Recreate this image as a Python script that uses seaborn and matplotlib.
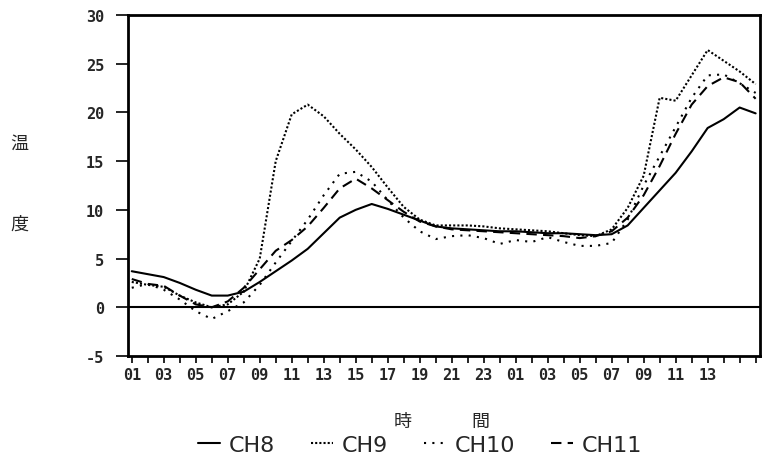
import numpy as np
import pandas as pd
import matplotlib
matplotlib.use("Agg")
import matplotlib.pyplot as plt
import seaborn as sns

# hourly readings, 01h day 1 through 16h day 2
hours = list(range(40))
tick_labels = ["01", "03", "05", "07", "09", "11", "13", "15", "17", "19", "21", "23",
               "01", "03", "05", "07", "09", "11", "13"]

ch8 = [3.7, 3.4, 3.1, 2.5, 1.8, 1.2, 1.2, 1.6, 2.6, 3.7,
       4.8, 6.0, 7.6, 9.2, 10.0, 10.6, 10.1, 9.5, 8.9, 8.3,
       8.1, 8.0, 7.9, 7.8, 7.8, 7.7, 7.6, 7.6, 7.5, 7.4,
       7.5, 8.4, 10.2, 12.0, 13.8, 16.0, 18.4, 19.3, 20.5, 19.9]
ch9 = [2.6, 2.3, 2.1, 1.2, 0.5, 0.0, 0.3, 1.6, 5.0, 15.0,
       19.8, 20.8, 19.6, 17.8, 16.2, 14.4, 12.3, 10.3, 9.0, 8.4,
       8.4, 8.4, 8.3, 8.1, 8.0, 7.9, 7.8, 7.6, 7.4, 7.3,
       8.0, 10.2, 13.5, 21.5, 21.2, 23.8, 26.4, 25.3, 24.2, 22.9]
ch10 = [2.0, 2.4, 1.8, 0.8, -0.4, -1.2, -0.4, 0.5, 2.3, 4.6,
        6.8, 9.0, 11.5, 13.7, 13.9, 12.9, 11.0, 9.2, 7.8, 7.0,
        7.3, 7.4, 7.1, 6.5, 6.9, 6.7, 7.2, 6.7, 6.3, 6.3,
        6.6, 9.0, 12.5, 15.5, 18.5, 21.5, 23.8, 23.9, 23.0, 22.0]
ch11 = [2.9, 2.4, 2.2, 1.2, 0.3, 0.0, 0.6, 2.0, 3.9, 5.8,
        6.9, 8.3, 10.2, 12.2, 13.2, 12.2, 11.0, 9.8, 8.8, 8.3,
        8.0, 7.9, 7.8, 7.7, 7.6, 7.5, 7.4, 7.3, 7.1, 7.3,
        7.8, 9.2, 11.5, 14.5, 17.8, 20.8, 22.7, 23.6, 23.1, 21.4]

channels = ["CH8", "CH9", "CH10", "CH11"]
df = pd.concat([
    pd.DataFrame({"hour": hours, "temp": v, "ch": c})
    for c, v in zip(channels, [ch8, ch9, ch10, ch11])
])

sns.set_style("white")
plt.rcParams["font.family"] = ["DejaVu Sans", "Noto Sans CJK JP"]
plt.rcParams["axes.unicode_minus"] = False

fig = plt.figure(figsize=(7.65, 4.64), dpi=100)
ax = fig.add_axes([0.167, 0.2306, 0.826, 0.735])

sns.lineplot(data=df, x="hour", y="temp", hue="ch", style="ch",
             palette={c: "black" for c in channels},
             dashes={"CH8": "", "CH9": (1, 1), "CH10": (1, 3), "CH11": (5, 3)},
             linewidth=1.5, ax=ax)

ax.axhline(0, color="black", lw=1.5)
ax.set_xlim(-0.25, 39.25)
ax.set_ylim(-5, 30)
ax.set_xticks(range(0, 40))
ax.set_xticklabels([tick_labels[i // 2] if i % 2 == 0 and i // 2 < len(tick_labels) else ""
                    for i in range(40)])
ax.set_yticks(range(-5, 31, 5))
ax.tick_params(axis="x", direction="out", length=5, width=1.2, color="black",
               labelsize=11, pad=3, bottom=True)
ax.tick_params(axis="y", direction="out", length=9, width=1.2, color="black",
               labelsize=11, pad=8, left=True)
for lab in ax.get_xticklabels() + ax.get_yticklabels():
    lab.set_family("DejaVu Sans Mono")
    lab.set_weight("bold")
for s in ax.spines.values():
    s.set_color("black")
    s.set_linewidth(2)
ax.set_xlabel("")
ax.set_ylabel("")

handles, labels = ax.get_legend_handles_labels()
ax.get_legend().remove()
fig.legend(handles, labels, loc="center", bbox_to_anchor=(0.549, 1 - 446 / 464),
           ncol=4, frameon=False, handlelength=1.0, columnspacing=1.6,
           handletextpad=0.4, prop={"family": "DejaVu Sans", "size": 16})

cjk = ["Noto Sans CJK JP"]
fig.text(19 / 765, 1 - 144 / 464, "温", ha="center", va="center", family=cjk, fontsize=13)
fig.text(19 / 765, 1 - 225 / 464, "度", ha="center", va="center", family=cjk, fontsize=13)
fig.text(403 / 765, 1 - 422 / 464, "時", ha="center", va="center", family=cjk, fontsize=13)
fig.text(480 / 765, 1 - 422 / 464, "間", ha="center", va="center", family=cjk, fontsize=13)

fig.savefig("out.png", dpi=100)
